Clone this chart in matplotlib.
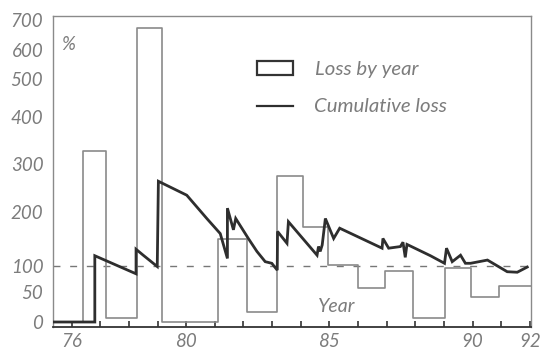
import numpy as np
import matplotlib
matplotlib.use("Agg")
import matplotlib.pyplot as plt
from matplotlib.lines import Line2D
from matplotlib.patches import Rectangle

# ---------------- data ----------------
# Loss by year: step outline (bin edges in years, value in %)
bar_edges = [75.35, 76.40, 77.20, 78.28, 79.16, 81.12, 82.13, 83.18, 84.09,
             84.96, 86.01, 86.95, 87.93, 89.05, 89.96, 90.94, 92.03]
bar_values = [0, 328, 7, 673, 0, 150, 17, 274, 173, 102, 58, 91, 6, 96, 42, 62]

# Cumulative loss (year, %)
cum_years = [75.35, 76.81, 76.81, 78.25, 78.25, 78.50, 78.99, 79.03, 80.02,
             80.72, 81.19, 81.44, 81.44, 81.65, 81.73, 82.17, 82.47, 82.76,
             82.99, 83.18, 83.19, 83.52, 83.57, 84.57, 84.62, 84.68, 84.75,
             84.86, 85.15, 85.36, 86.84, 86.87, 87.07, 87.48, 87.57, 87.65,
             87.71, 88.53, 89.02, 89.09, 89.29, 89.58, 89.75, 89.93, 90.52,
             91.21, 91.56, 91.91]
cum_values = [0, 0, 119, 85, 131, 120, 99, 264, 235,
              188, 160, 114, 208, 167, 188, 151, 127, 108,
              105, 92, 164, 142, 182, 120, 136, 127, 139,
              188, 151, 170, 133, 151, 133, 136, 144, 116,
              140, 119, 105, 133, 108, 120, 105, 105, 111,
              89, 88, 98]

reference_level = 100

y_ticks = [0, 50, 100, 200, 300, 400, 500, 600, 700]
y_tick_labels = ["0", "50", "100", "200", "300", "400", "500", "600", "700"]
x_ticks = list(range(76, 93))
x_tick_labels = {76: "76", 80: "80", 85: "85", 90: "90", 92: "92"}

# non-linear vertical scale of the original drawing (value -> relative height)
scale_vals = [-100, 0, 50, 100, 200, 300, 400, 500, 600, 700, 1000]
scale_pos = [-60, 0, 30, 56, 110, 158, 205, 243, 272, 302, 392]


def fwd(v):
    return np.interp(v, scale_vals, scale_pos)


def inv(p):
    return np.interp(p, scale_pos, scale_vals)


# ---------------- figure ----------------
W, H, DPI = 545, 358, 100
fig = plt.figure(figsize=(W / DPI, H / DPI), dpi=DPI)
ax = fig.add_axes([53 / W, 1 - 327 / H, (530.7 - 53) / W, (327 - 16) / H])
ax.set_yscale("function", functions=(fwd, inv))
ax.set_xlim(75.35, 92.03)
ax.set_ylim(inv(-5), inv(306))

txt_color = "#7c7c7c"
font = dict(family=["Lato", "DejaVu Sans"], style="italic", weight="normal",
            color=txt_color)

# step outline of yearly losses
ax.step(bar_edges, bar_values + [bar_values[-1]], where="post",
        color="#8a8a8a", lw=1.2, zorder=2)

# cumulative loss
ax.plot(cum_years, cum_values, color="#2e2e2e", lw=2.0, zorder=3,
        solid_joinstyle="miter")

# 100 % reference line
ax.axhline(reference_level, color="#777777", lw=1.0, ls=(0, (5, 7)), zorder=1)

# ticks
ax.set_yticks(y_ticks)
ax.set_yticklabels(y_tick_labels, fontsize=13.5, **font)
ax.tick_params(axis="y", length=0, pad=7)
ax.yaxis.set_minor_locator(matplotlib.ticker.NullLocator())
ax.set_xticks(x_ticks)
ax.set_xticklabels([x_tick_labels.get(t, "") for t in x_ticks], fontsize=13.5, **font)
ax.tick_params(axis="x", direction="in", length=4, width=1.2, color="#333333", pad=4)

for s in ["left", "top", "right"]:
    ax.spines[s].set_color("#8a8a8a")
    ax.spines[s].set_linewidth(1.0)
ax.spines["bottom"].set_color("#333333")
ax.spines["bottom"].set_linewidth(1.3)

# annotations
ax.text(75.88, inv(322 - 45), "%", fontsize=13.5, ha="center", va="center", **font)
ax.text(85.25, inv(322 - 307), "Year", fontsize=14, ha="center", va="center", **font)

# legend (drawn manually like the original)
def px(x, y):
    return (x / W, 1 - y / H)

x0, y0 = px(257, 75)
x1, y1 = px(293, 61)
fig.patches.append(Rectangle((x0, y0), x1 - x0, y1 - y0, transform=fig.transFigure,
                             fill=False, edgecolor="#333333", lw=1.6))
lx0, ly = px(257, 106)
lx1, _ = px(293, 106)
fig.lines.append(Line2D([lx0, lx1], [ly, ly], transform=fig.transFigure,
                        color="#2e2e2e", lw=1.6))
fig.text(*px(315, 69), "Loss by year", fontsize=14.7, va="center", ha="left", **font)
fig.text(*px(314, 106), "Cumulative loss", fontsize=14.7, va="center", ha="left", **font)

fig.savefig("out.png", dpi=DPI)
